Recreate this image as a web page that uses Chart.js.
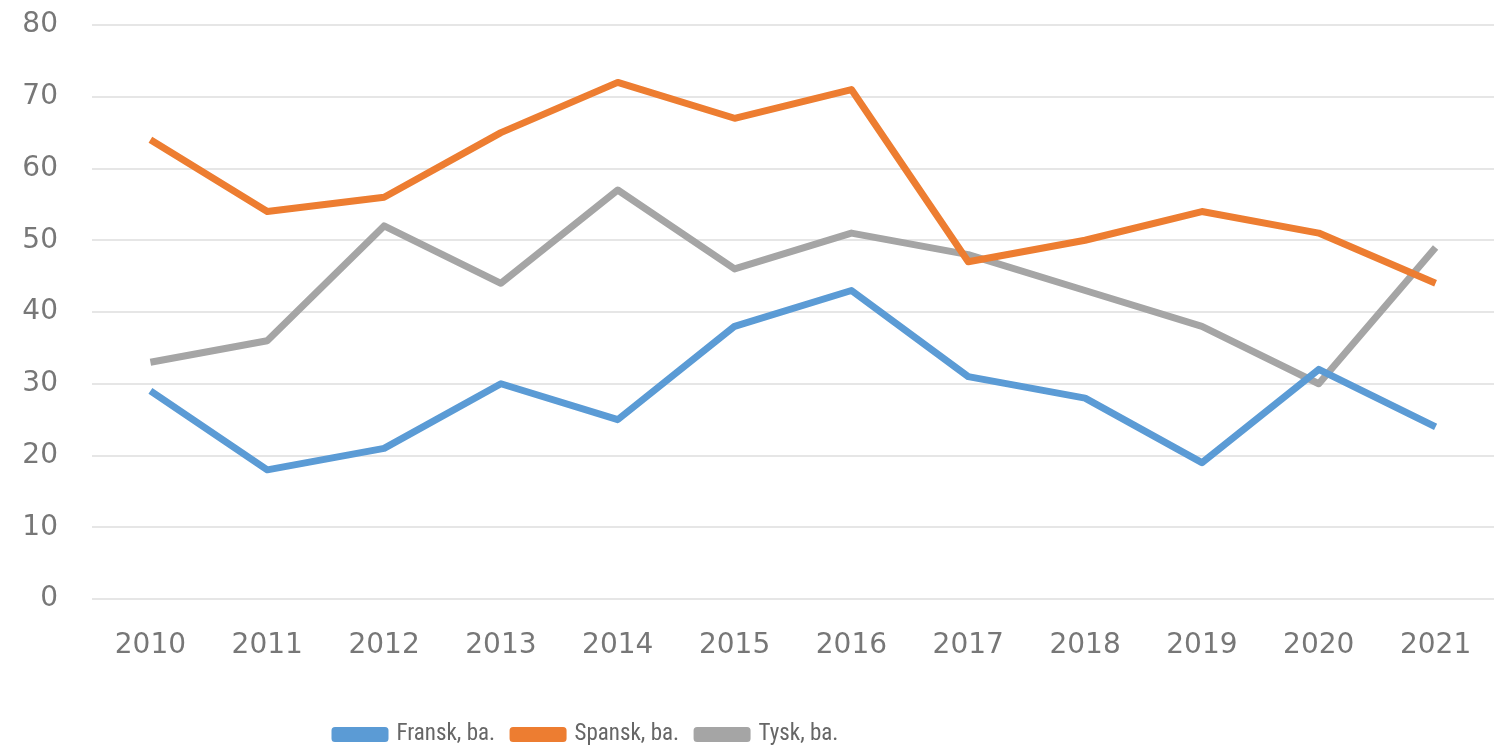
<!DOCTYPE html>
<html>
<head>
<meta charset="utf-8">
<script src="https://cdn.jsdelivr.net/npm/chart.js@4"></script>
<style>
  html, body { margin: 0; padding: 0; background: #fff; }
  #wrap { width: 1494px; height: 750px; position: relative; }
</style>
</head>
<body>
<div id="wrap"><canvas id="chart"></canvas></div>
<script>
const years = ['2010', '2011', '2012', '2013', '2014', '2015', '2016', '2017', '2018', '2019', '2020', '2021'];
const fransk = [29, 18, 21, 30, 25, 38, 43, 31, 28, 19, 32, 24];
const spansk = [64, 54, 56, 65, 72, 67, 71, 47, 50, 54, 51, 44];
const tysk = [33, 36, 52, 44, 57, 46, 51, 48, 43, 38, 30, 49];

const mkSet = (label, data, color) => ({
    label: label,
    data: data,
    borderColor: color,
    backgroundColor: color,
    borderWidth: 7,
    pointRadius: 0,
    tension: 0,
    borderCapStyle: 'butt',
    borderJoinStyle: 'round'
});

// legend in the original sits left of centre and a bit lower
const shiftLegend = {
    id: 'shiftLegend',
    afterLayout(chart) {
        const lg = chart.legend;
        lg.left += 317;
        lg.right += 317;
        lg.top += 6;
        lg.bottom += 6;
    }
};

new Chart(document.getElementById('chart').getContext('2d'), {
    type: 'line',
    data: {
        labels: years,
        datasets: [
            mkSet('Fransk, ba.', fransk, '#5b9bd5'),
            mkSet('Spansk, ba.', spansk, '#ed7d31'),
            mkSet('Tysk, ba.', tysk, '#a5a5a5')
        ]
    },
    options: {
        responsive: true,
        maintainAspectRatio: false,
        animation: false,
        layout: { padding: { left: 0, right: 0, top: 25, bottom: 0 } },
        scales: {
            x: {
                offset: true,
                grid: { display: false, drawTicks: false },
                border: { display: false },
                afterFit: (scale) => {
                    scale.height = 100;
                    scale.paddingLeft = 0;
                    scale.paddingRight = 0;
                },
                ticks: {
                    color: '#777',
                    padding: 30,
                    font: { family: 'DejaVu Sans', size: 28 }
                }
            },
            y: {
                min: 0,
                max: 80,
                grid: { color: '#e6e6e6', lineWidth: 2, drawTicks: false },
                border: { display: false },
                afterFit: (scale) => {
                    scale.width = 92;
                    scale.paddingTop = 0;
                    scale.paddingBottom = 0;
                },
                ticks: {
                    stepSize: 10,
                    color: '#777',
                    padding: 34,
                    font: { family: 'DejaVu Sans', size: 28 }
                }
            }
        },
        plugins: {
            legend: {
                position: 'bottom',
                align: 'start',
                labels: {
                    boxWidth: 50,
                    boxHeight: 8,
                    padding: 18,
                    color: '#666',
                    font: { family: "'Liberation Sans Narrow', 'Roboto Condensed', sans-serif", size: 23 }
                }
            },
            tooltip: { enabled: false }
        }
    },
    plugins: [shiftLegend]
});
</script>
</body>
</html>
